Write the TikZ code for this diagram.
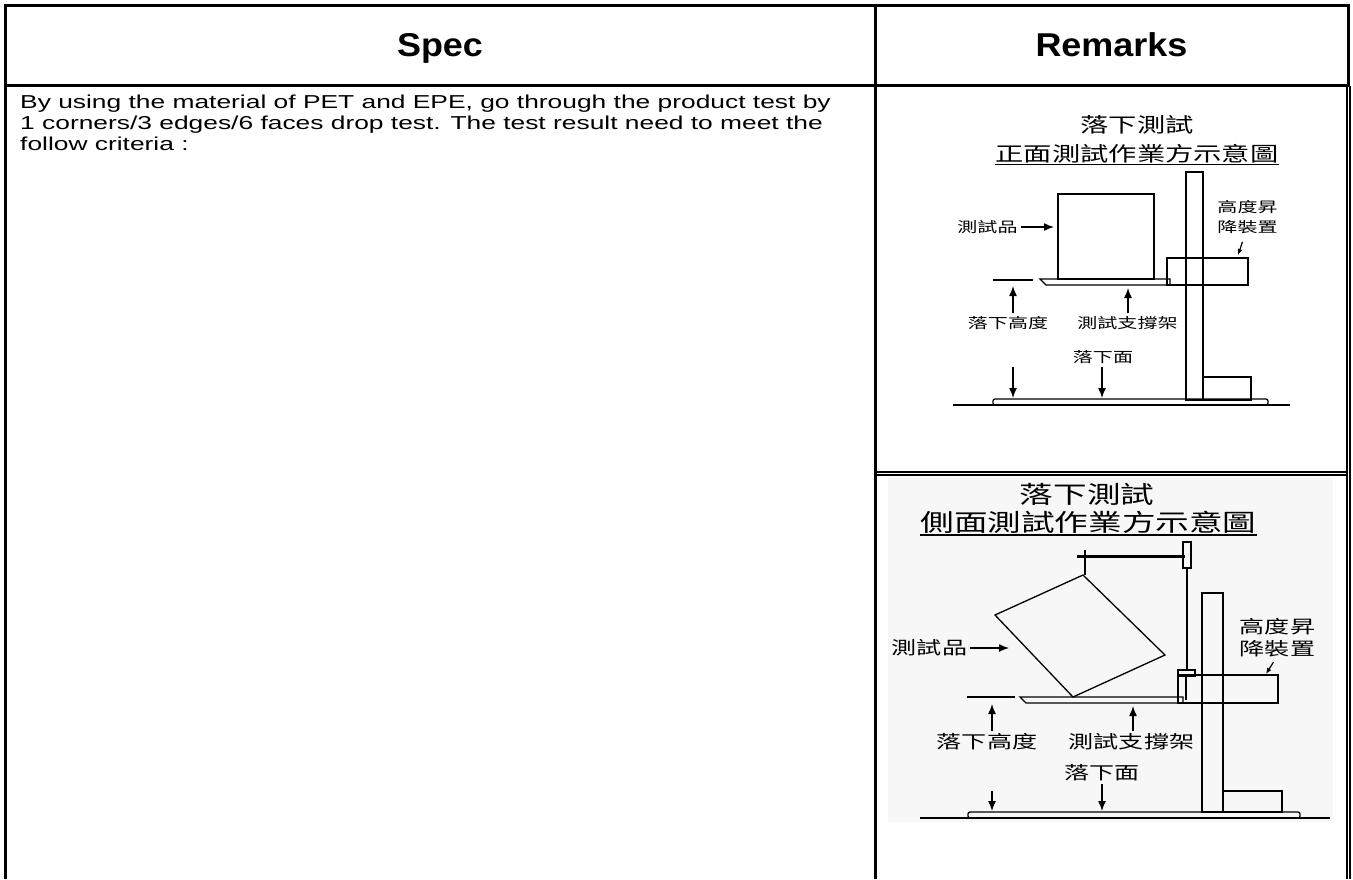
\documentclass[tikz,border=0pt]{standalone}
\usepackage{fontspec}
\setmainfont{Liberation Sans}
\newfontfamily\bodyfont{Liberation Sans}[FakeStretch=1.41]
\newfontfamily\headfont{Liberation Sans}[FakeStretch=1.09]
\newfontfamily\cjk{Noto Sans CJK TC}[FakeStretch=1.4]
\usetikzlibrary{arrows.meta}
\begin{document}
\begin{tikzpicture}[x=1pt, y=-1pt,
    rule/.style={line width=3pt},
    thinrule/.style={line width=1.6pt},
    part/.style={draw, line width=1.3pt},
    arr/.style={line width=1.4pt, -{Latex[length=10pt,width=8pt]}},
    arrsmall/.style={line width=1.2pt, -{Latex[length=6pt,width=5pt]}},
    head/.style={anchor=base, font=\headfont\bfseries\fontsize{33}{36}\selectfont},
    ttlA/.style={inner sep=0pt, font=\cjk\fontsize{20.2}{22}\selectfont},
    ttlB/.style={inner sep=0pt, font=\cjk\fontsize{24}{26}\selectfont},
    lblA/.style={inner sep=3pt, align=center, font=\cjk\fontsize{14.3}{20}\selectfont},
    lblB/.style={inner sep=3pt, align=center, font=\cjk\fontsize{17.9}{22}\selectfont}]
    \useasboundingbox (0,0) rectangle (1353,879);

    % table frame
    \foreach \y in {5.5,85} {
      \draw[rule] (4,\y) -- (1350,\y);
    }
    \foreach \x in {5.5,875.5} {
      \draw[rule] (\x,4) -- (\x,879);
    }
    \draw[rule] (1348.5,4) -- (1348.5,86);
    \foreach \x in {1346.7,1349.7} {
      \draw[thinrule] (\x,86) -- (\x,879);
    }
    \foreach \y in {471.8,475.2} {
      \draw[thinrule] (876,\y) -- (1346.7,\y);
    }

    % header row
    \node[head] (spec) at (440,56.7) {Spec};
    \node[head] (remarks) at (1111.5,56.7) {Remarks};

    % spec text
    \node[anchor=north west, inner sep=0pt, align=left,
          font=\bodyfont\fontsize{18.7}{21}\selectfont] (crit) at (20,95)
      {By using the material of PET and EPE, go through the product test by\\
       1 corners/3 edges/6 faces drop test. The test result need to meet the\\
       follow criteria :};

    % front drop test
    \node[ttlA] (titleA) at (1137,125) {落下測試};
    \node[ttlA] (subA) at (1137,153.5) {正面測試作業方示意圖};
    \draw[line width=1.4pt] ([yshift=-1.5pt]subA.south west) -- ([yshift=-1.5pt]subA.south east);
    \draw[part] (1186,172) rectangle (1203,400);
    \draw[part] (1058,194) rectangle (1154,279);
    \draw[part] (1040,279) -- (1170,279) -- (1170,285) -- (1046,285) -- cycle;
    \draw[part] (1167,258) rectangle (1248,285);
    \draw[part] (993,280) -- (1033,280);
    \draw[part] (1203,377) rectangle (1251,400);
    \draw[part, rounded corners=2pt] (993,399) rectangle (1268,405);
    \draw[line width=2pt] (953,405) -- (1290,405);

    \node[lblA] (itemA) at (987.5,227) {測試品};
    \node[lblA] (liftA) at (1247.5,217) {高度昇\\降裝置};
    \node[lblA] (dropA) at (1008,323) {落下高度};
    \node[lblA] (holdA) at (1127.5,323) {測試支撐架};
    \node[lblA] (floorA) at (1103,357) {落下面};
    \coordinate (itemtipA) at (1054,227);
    \coordinate (lifttipA) at (1238,255);
    \coordinate (htopA) at (1013,286);
    \coordinate (holdtipA) at (1128,288);
    \coordinate (floortipA) at (1102,398);
    \coordinate (hbotA) at (1013,367);
    \coordinate (hgndA) at (1013,398);
    \draw[arr] (itemA.east) -- (itemtipA);
    \draw[arrsmall] ([xshift=-5pt,yshift=-5pt]liftA.south) -- (lifttipA);
    \draw[arr] (htopA |- dropA.north) -- (htopA);
    \draw[arr] (holdtipA |- holdA.north) -- (holdtipA);
    \draw[arr] (floortipA |- floorA.south) -- (floortipA);
    \draw[arr] (hbotA) -- (hgndA);

    % side drop test
    \fill[black!3] (888,478) rectangle (1333,822);
    \node[ttlB] (titleB) at (1087,494) {落下測試};
    \node[ttlB] (subB) at (1088.5,522) {側面測試作業方示意圖};
    \draw[line width=1.4pt] ([yshift=-1.5pt]subB.south west) -- ([yshift=-1.5pt]subB.south east);
    \draw[line width=3pt] (1077,556) -- (1185,556);
    \draw[line width=1.6pt] (1085,550) -- (1085,575);
    \draw[part] (1183,542) rectangle (1191,568);
    \draw[line width=2.6pt] (1187,568) -- (1187,670);
    \draw[part] (1178,670) rectangle (1195,676);
    \draw[part] (1083,575) -- (1165,655) -- (1073,697) -- (995,615) -- cycle;
    \draw[part] (1202,593) rectangle (1223,812);
    \draw[part] (1178,675) rectangle (1278,703);
    \draw[part] (1186,676) -- (1186,700);
    \draw[part] (1020,697) -- (1183,697) -- (1183,703) -- (1026,703) -- cycle;
    \draw[part] (967,697) -- (1015,697);
    \draw[part] (1223,791) rectangle (1282,812);
    \draw[part, rounded corners=2pt] (968,812) rectangle (1300,818);
    \draw[line width=2pt] (920,818) -- (1330,818);

    \node[lblB] (itemB) at (929.5,648) {測試品};
    \node[lblB] (liftB) at (1277.5,637.5) {高度昇\\降裝置};
    \node[lblB] (dropB) at (987,742) {落下高度};
    \node[lblB] (holdB) at (1131.5,742) {測試支撐架};
    \node[lblB] (floorB) at (1102,773) {落下面};
    \coordinate (itemtipB) at (1009,648);
    \coordinate (lifttipB) at (1266,674);
    \coordinate (htopB) at (992,704);
    \coordinate (holdtipB) at (1133,706);
    \coordinate (floortipB) at (1102,811);
    \coordinate (hbotB) at (992,791);
    \coordinate (hgndB) at (992,811);
    \draw[arr] (itemB.east) -- (itemtipB);
    \draw[arrsmall] ([xshift=-4pt,yshift=-2pt]liftB.south) -- (lifttipB);
    \draw[arr] (htopB |- dropB.north) -- (htopB);
    \draw[arr] (holdtipB |- holdB.north) -- (holdtipB);
    \draw[arr] (floortipB |- floorB.south) -- (floortipB);
    \draw[arr] (hbotB) -- (hgndB);
  \end{tikzpicture}
\end{document}
